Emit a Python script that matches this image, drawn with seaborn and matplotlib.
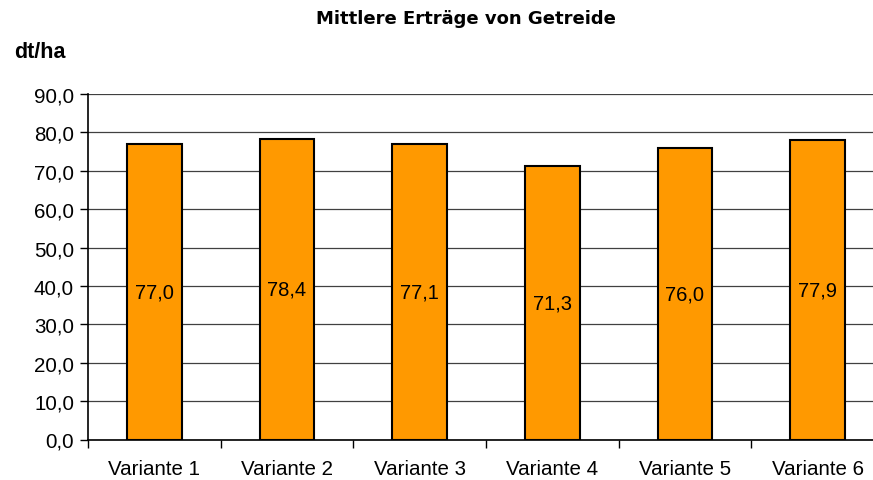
import matplotlib
matplotlib.use("Agg")
import matplotlib.pyplot as plt
import seaborn as sns
import pandas as pd

# Werte aus dem Diagramm
varianten = ["Variante 1", "Variante 2", "Variante 3", "Variante 4", "Variante 5", "Variante 6"]
ertrag = [77.0, 78.4, 77.1, 71.3, 76.0, 77.9]
y_ticks = [0, 10, 20, 30, 40, 50, 60, 70, 80, 90]

df = pd.DataFrame({"Variante": varianten, "Ertrag": ertrag})

sns.set_theme(style="white")
plt.rcParams["font.family"] = ["Liberation Sans", "DejaVu Sans"]
plt.rcParams["text.color"] = "black"
plt.rcParams["xtick.color"] = "black"
plt.rcParams["ytick.color"] = "black"

fig = plt.figure(figsize=(8.73, 4.81), dpi=100)
ax = fig.add_axes([88 / 873, 40.5 / 481, 796 / 873, 345.5 / 481])

sns.barplot(data=df, x="Variante", y="Ertrag", color="#FF9900", width=0.41,
            edgecolor="black", linewidth=1.5, saturation=1, ax=ax, zorder=3)

ax.set_ylim(0, 90)
ax.set_xlim(-0.5, 5.5)
ax.set_yticks(y_ticks)
ax.set_yticklabels([f"{v:.1f}".replace(".", ",") for v in y_ticks], fontsize=14.8)
ax.yaxis.grid(True, color="black", linewidth=0.9, alpha=0.75, zorder=0)
ax.set_axisbelow(True)

# Ticks zwischen den Kategorien
ax.set_xticks([i + 0.5 for i in range(-1, 6)], minor=False)
ax.set_xticklabels([])
ax.set_xticks(range(len(varianten)), minor=True)
ax.set_xticklabels(varianten, minor=True, fontsize=14.8)
ax.tick_params(axis="x", which="major", direction="out", length=6, width=1, color="black", bottom=True)
ax.tick_params(axis="x", which="minor", length=0, pad=14)
ax.tick_params(axis="y", direction="out", length=6, width=1, color="black", left=True, pad=4)

for s in ["top", "right"]:
    ax.spines[s].set_visible(False)
for s in ["left", "bottom"]:
    ax.spines[s].set_color("black")
    ax.spines[s].set_linewidth(1.2)

ax.set_xlabel("")
ax.set_ylabel("")

for i, v in enumerate(ertrag):
    ax.text(i, v / 2, f"{v:.1f}".replace(".", ","), ha="center", va="center",
            fontsize=14.5, color="black", zorder=4)

fig.text(466 / 873, 1 - 19 / 481, "Mittlere Erträge von Getreide", ha="center", va="center",
         fontsize=13, fontweight="bold", family=["DejaVu Sans"])
fig.text(14 / 873, 1 - 52 / 481, "dt/ha", ha="left", va="center",
         fontsize=15.5, fontweight="bold")

fig.savefig("out.png", dpi=100)
